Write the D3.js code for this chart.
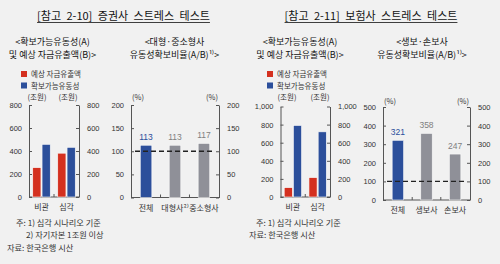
<!DOCTYPE html>
<html>
<head>
<meta charset="utf-8">
<script src="https://cdn.jsdelivr.net/npm/d3@7"></script>
<style>
  body { margin: 0; background: #f1f1f1; }
  text { font-family: "Noto Sans CJK KR", sans-serif; }
</style>
</head>
<body>
<svg id="chart" width="500" height="264"></svg>
<script>
// values
var seriesNames = ["예상 자금유출액", "확보가능유동성"];
var secCategories = ["비관", "심각"];
var secOutflow = [255, 381];
var secLiquidity = [458, 432];
var secRatioCategories = ["전체", "대형사²⁾", "중소형사"];
var secRatio = [113, 113, 117];
var insCategories = ["비관", "심각"];
var insOutflow = [103, 214];
var insLiquidity = [790, 720];
var insRatioCategories = ["전체", "생보사", "손보사"];
var insRatio = [321, 358, 247];
var secAmountTicks = [0, 200, 400, 600, 800];
var secRatioTicks = [0, 50, 100, 150, 200];
var insAmountTicks = [0, 200, 400, 600, 800, 1000];
var insRatioTicks = [0, 100, 200, 300, 400, 500];

var red = "#d4301f", blue = "#2c4f9b", gray = "#8f9098", axisColor = "#555", textColor = "#333";
var svg = d3.select("#chart");

function styleAxis(g) {
    g.select(".domain").attr("stroke", axisColor);
    g.selectAll(".tick line").attr("stroke", axisColor);
    g.selectAll(".tick text").attr("fill", textColor).attr("font-size", 7.5)
        .style("font-family", "'Liberation Sans', sans-serif");
}

function frame(o, y) {
    svg.append("g").attr("transform", "translate(" + o.left + ",0)")
        .call(d3.axisLeft(y).tickValues(o.ticks).tickSize(-3).tickSizeOuter(0).tickPadding(7).tickFormat(d3.format(",")))
        .call(styleAxis);
    svg.append("g").attr("transform", "translate(" + o.right + ",0)")
        .call(d3.axisRight(y).tickValues(o.ticks).tickSize(-3).tickSizeOuter(0).tickPadding(8).tickFormat(d3.format(",")))
        .call(styleAxis);
    svg.append("line").attr("x1", o.left).attr("x2", o.right)
        .attr("y1", o.bottom).attr("y2", o.bottom).attr("stroke", axisColor);
}

function categoryTicks(x, cats, bottom) {
    // little ticks between the categories
    var bounds = cats.slice(1).map(function (c) { return x(c) - x.step() * x.paddingInner() / 2; });
    svg.append("g").selectAll("line").data(bounds).enter().append("line")
        .attr("x1", function (d) { return d; }).attr("x2", function (d) { return d; })
        .attr("y1", bottom).attr("y2", bottom - 3).attr("stroke", axisColor);
    svg.append("g").selectAll("text").data(cats).enter().append("text")
        .attr("x", function (d) { return x(d) + x.bandwidth() / 2; })
        .attr("y", bottom + 13)
        .attr("text-anchor", "middle").attr("font-size", 8).attr("fill", textColor)
        .text(function (d) { return d; });
}

function drawAmount(o) {
    var y = d3.scaleLinear().domain([0, o.max]).range([o.bottom, o.top]);
    var x0 = d3.scaleBand().domain(o.cats).range([o.left, o.right]).paddingInner(0.3).paddingOuter(0.15);
    var x1 = d3.scaleBand().domain([0, 1]).range([0, x0.bandwidth()]).paddingInner(0.12);
    frame(o, y);

    var rows = o.cats.map(function (c, i) { return { cat: c, vals: [o.outflow[i], o.liquidity[i]] }; });
    svg.append("g").selectAll("g").data(rows).enter().append("g")
        .attr("transform", function (d) { return "translate(" + x0(d.cat) + ",0)"; })
        .selectAll("rect").data(function (d) { return d.vals; }).enter().append("rect")
        .attr("x", function (d, i) { return x1(i); })
        .attr("y", function (d) { return y(d); })
        .attr("width", x1.bandwidth())
        .attr("height", function (d) { return o.bottom - y(d); })
        .attr("fill", function (d, i) { return i === 0 ? red : blue; })
        .attr("stroke", "#fafafa").attr("stroke-width", 0.6);
    categoryTicks(x0, o.cats, o.bottom);

    // legend
    var legend = svg.append("g").selectAll("g").data(seriesNames).enter().append("g")
        .attr("transform", function (d, i) { return "translate(" + o.legendX + "," + (o.legendY + i * 11.5) + ")"; });
    legend.append("rect").attr("x", 0).attr("y", -3).attr("width", 6).attr("height", 6)
        .attr("fill", function (d, i) { return i === 0 ? red : blue; });
    legend.append("text").attr("x", 10).attr("y", 3).attr("font-size", 7.5).attr("fill", textColor)
        .text(function (d) { return d; });

    svg.append("g").selectAll("text").data(o.unitX).enter().append("text")
        .attr("x", function (d) { return d; }).attr("y", o.unitY)
        .attr("text-anchor", "middle").attr("font-size", 7.5).attr("fill", textColor)
        .text("(조원)");
}

function drawRatio(o) {
    var y = d3.scaleLinear().domain([0, o.max]).range([o.bottom, o.top]);
    var x = d3.scaleBand().domain(o.cats).range([o.left, o.right]).paddingInner(0.6).paddingOuter(0.32);
    frame(o, y);

    svg.append("g").selectAll("rect").data(o.values).enter().append("rect")
        .attr("x", function (d, i) { return x(o.cats[i]); })
        .attr("y", function (d) { return y(d); })
        .attr("width", x.bandwidth())
        .attr("height", function (d) { return o.bottom - y(d); })
        .attr("fill", function (d, i) { return i === 0 ? blue : gray; })
        .attr("stroke", "#fafafa").attr("stroke-width", 0.6);
    svg.append("g").selectAll("text").data(o.values).enter().append("text")
        .attr("x", function (d, i) { return x(o.cats[i]) + x.bandwidth() / 2; })
        .attr("y", function (d) { return y(d) - 5; })
        .attr("text-anchor", "middle").attr("font-size", 8.5)
        .attr("fill", function (d, i) { return i === 0 ? blue : "#808080"; })
        .style("font-family", "'Liberation Sans', sans-serif")
        .text(function (d) { return d; });

    svg.append("line").attr("x1", o.left + 4).attr("x2", o.right - 4)
        .attr("y1", y(100)).attr("y2", y(100))
        .attr("stroke", "#222").attr("stroke-width", 1.3).attr("stroke-dasharray", "5,3");
    categoryTicks(x, o.cats, o.bottom);

    svg.append("text").attr("x", o.left + 7).attr("y", o.unitY).attr("text-anchor", "middle")
        .attr("font-size", 7.5).attr("fill", textColor).text("(%)");
    svg.append("text").attr("x", o.right - 7).attr("y", o.unitY).attr("text-anchor", "middle")
        .attr("font-size", 7.5).attr("fill", textColor).text("(%)");
}

function heading(cx, title, sub1, sub2) {
    var t = svg.append("text").attr("x", cx).attr("y", 20).attr("text-anchor", "middle")
        .attr("font-size", 11).attr("fill", "#111").attr("word-spacing", 3).text(title);
    var w = t.node().getComputedTextLength();
    svg.append("line").attr("x1", cx - w / 2).attr("x2", cx + w / 2)
        .attr("y1", 22.5).attr("y2", 22.5).attr("stroke", "#111").attr("stroke-width", 0.8);
    [sub1, sub2].forEach(function (pair, k) {
        svg.append("g").selectAll("text").data(pair).enter().append("text")
            .attr("x", k === 0 ? cx - 71 : cx + 51)
            .attr("y", function (d, i) { return 44.5 + i * 13; })
            .attr("text-anchor", "middle").attr("font-size", 9).attr("fill", "#111")
            .text(function (d) { return d; });
    });
}

heading(123.5, "[참고 2-10] 증권사 스트레스 테스트",
    ["<확보가능유동성(A)", "및 예상 자금유출액(B)>"], ["<대형·중소형사", "유동성확보비율(A/B)¹⁾>"]);
heading(371, "[참고 2-11] 보험사 스트레스 테스트",
    ["<확보가능유동성(A)", "및 예상 자금유출액(B)>"], ["<생보·손보사", "유동성확보비율(A/B)¹⁾>"]);

drawAmount({ left: 29, right: 79, top: 105, bottom: 197, max: 800, ticks: secAmountTicks,
    cats: secCategories, outflow: secOutflow, liquidity: secLiquidity,
    legendX: 21, legendY: 74, unitX: [37, 68], unitY: 99.5 });
drawRatio({ left: 131, right: 219, top: 105, bottom: 197.5, max: 200, ticks: secRatioTicks,
    cats: secRatioCategories, values: secRatio, unitY: 100 });
drawAmount({ left: 280.5, right: 330, top: 106.5, bottom: 197, max: 1000, ticks: insAmountTicks,
    cats: insCategories, outflow: insOutflow, liquidity: insLiquidity,
    legendX: 267, legendY: 74, unitX: [287, 320], unitY: 99.5 });
drawRatio({ left: 383, right: 470, top: 107, bottom: 200, max: 500, ticks: insRatioTicks,
    cats: insRatioCategories, values: insRatio, unitY: 104 });

// notes
var notesLeft = [[16, 225.5, "주: 1) 심각 시나리오 기준"], [26, 238, "2) 자기자본 1조원 이상"], [7, 250.5, "자료: 한국은행 시산"]];
var notesRight = [[256, 225.5, "주: 1) 심각 시나리오 기준"], [249, 238, "자료: 한국은행 시산"]];
svg.append("g").selectAll("text").data(notesLeft.concat(notesRight)).enter().append("text")
    .attr("x", function (d) { return d[0]; }).attr("y", function (d) { return d[1]; })
    .attr("font-size", 8.2).attr("fill", textColor)
    .text(function (d) { return d[2]; });
</script>
</body>
</html>
